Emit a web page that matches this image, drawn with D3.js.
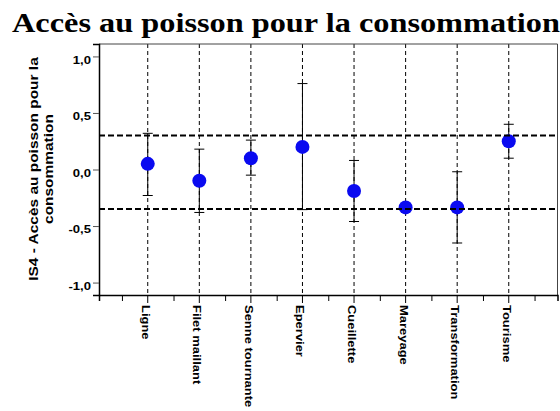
<!DOCTYPE html>
<html>
<head>
<meta charset="utf-8">
<script src="https://cdn.jsdelivr.net/npm/d3@7"></script>
<style>
  body { margin: 0; background: #fff; }
</style>
</head>
<body>
<div id="chart"></div>
<script>
// data
var categories = ["Ligne", "Filet maillant", "Senne tournante", "Epervier", "Cueillette", "Mareyage", "Transformation", "Tourisme"];
var means = [0.05, -0.10, 0.10, 0.20, -0.19, -0.335, -0.335, 0.25];
var lows = [-0.23, -0.38, -0.05, -0.355, -0.46, -0.335, -0.65, 0.10];
var highs = [0.32, 0.18, 0.26, 0.76, 0.08, -0.335, -0.02, 0.40];
var refLines = [0.30, -0.35];
var yTicks = [-1.0, -0.5, 0.0, 0.5, 1.0];
var titleText = "Accès au poisson pour la consommation";
var yLabelLines = ["IS4 - Accès au poisson pour la", "consommation"];

function draw() {
    var w = 560;
    var h = 411;
    var left = 99, right = 557.5, top = 44, bottom = 295;
    var stretch = 1.19; // text in the original is wider than Arial
    var sans = "'Liberation Sans', Arial, sans-serif";

    var svg = d3.select("#chart")
        .append("svg")
        .attr("width", w)
        .attr("height", h)
        .attr("font-family", sans)
        .attr("font-weight", "bold");

    svg.append("rect")
        .attr("width", w)
        .attr("height", h)
        .attr("fill", "white");

    // scales
    var x = d3.scaleLinear()
        .domain([0.055, categories.length + 0.945])
        .range([left, right]);
    var y = d3.scaleLinear()
        .domain([-1.11, 1.11])
        .range([bottom, top]);

    // title
    svg.append("text")
        .attr("transform", "translate(286,31.5) scale(1.22,1)")
        .attr("text-anchor", "middle")
        .attr("font-family", "'Liberation Serif', 'Times New Roman', serif")
        .attr("font-size", "26.5px")
        .attr("fill", "black")
        .text(titleText);

    // vertical dashed lines at each category
    svg.selectAll(".vline")
        .data(categories)
        .enter()
        .append("line")
        .attr("class", "vline")
        .attr("x1", function(d, i) { return x(i + 1); })
        .attr("x2", function(d, i) { return x(i + 1); })
        .attr("y1", top)
        .attr("y2", bottom)
        .attr("stroke", "black")
        .attr("stroke-width", 1)
        .attr("stroke-dasharray", "4,3");

    // error bars
    var eb = svg.selectAll(".err")
        .data(categories)
        .enter()
        .append("g")
        .attr("class", "err");
    eb.append("line")
        .attr("x1", function(d, i) { return x(i + 1); })
        .attr("x2", function(d, i) { return x(i + 1); })
        .attr("y1", function(d, i) { return y(lows[i]); })
        .attr("y2", function(d, i) { return y(highs[i]); })
        .attr("stroke", "black");
    eb.append("line")
        .attr("x1", function(d, i) { return x(i + 1) - 5; })
        .attr("x2", function(d, i) { return x(i + 1) + 5; })
        .attr("y1", function(d, i) { return y(highs[i]); })
        .attr("y2", function(d, i) { return y(highs[i]); })
        .attr("stroke", "black");
    eb.append("line")
        .attr("x1", function(d, i) { return x(i + 1) - 5; })
        .attr("x2", function(d, i) { return x(i + 1) + 5; })
        .attr("y1", function(d, i) { return y(lows[i]); })
        .attr("y2", function(d, i) { return y(lows[i]); })
        .attr("stroke", "black");

    // mean points
    svg.selectAll("circle")
        .data(categories)
        .enter()
        .append("circle")
        .attr("cx", function(d, i) { return x(i + 1); })
        .attr("cy", function(d, i) { return y(means[i]); })
        .attr("r", 7)
        .attr("fill", "#0a0af0");

    // reference lines drawn over the points
    svg.selectAll(".ref")
        .data(refLines)
        .enter()
        .append("line")
        .attr("class", "ref")
        .attr("x1", left)
        .attr("x2", right)
        .attr("y1", function(d) { return y(d); })
        .attr("y2", function(d) { return y(d); })
        .attr("stroke", "black")
        .attr("stroke-width", 2)
        .attr("stroke-dasharray", "6,3");

    // frame
    svg.append("line").attr("x1", left).attr("x2", right).attr("y1", top).attr("y2", top)
        .attr("stroke", "#444").attr("stroke-width", 1);
    svg.append("line").attr("x1", right).attr("x2", right).attr("y1", top).attr("y2", bottom)
        .attr("stroke", "#444").attr("stroke-width", 1);

    // y axis
    var yAxis = d3.axisLeft(y)
        .tickValues(yTicks)
        .tickSize(6)
        .tickPadding(2)
        .tickFormat(function(d) { return d.toFixed(1).replace(".", ",").replace("-0,0", "0,0"); });
    var gy = svg.append("g")
        .attr("transform", "translate(" + left + ",0)")
        .call(yAxis);
    gy.attr("font-family", sans);
    gy.select(".domain").attr("stroke", "black").attr("stroke-width", 1.5);
    gy.selectAll(".tick line").attr("stroke", "#555");
    gy.selectAll(".tick text")
        .attr("font-size", "11px")
        .attr("font-weight", "bold")
        .attr("fill", "black")
        .attr("x", null)
        .attr("dy", "0.6em")
        .attr("transform", "translate(-8,0) scale(" + stretch + ",1)");

    // x axis: small ticks between categories, longer ticks at categories
    var halfTicks = d3.range(0.5, categories.length + 1, 1);
    var xAxis = d3.axisBottom(x)
        .tickValues(halfTicks)
        .tickSize(6)
        .tickFormat("");
    var gx = svg.append("g")
        .attr("transform", "translate(0," + bottom + ")")
        .call(xAxis);
    gx.select(".domain").attr("stroke", "black").attr("stroke-width", 1.5);

    svg.selectAll(".ctick")
        .data(categories)
        .enter()
        .append("line")
        .attr("class", "ctick")
        .attr("x1", function(d, i) { return x(i + 1); })
        .attr("x2", function(d, i) { return x(i + 1); })
        .attr("y1", bottom)
        .attr("y2", bottom + 8)
        .attr("stroke", "black");

    svg.selectAll(".xlab")
        .data(categories)
        .enter()
        .append("text")
        .attr("class", "xlab")
        .attr("transform", function(d, i) {
            return "translate(" + (x(i + 1) - 6) + ",305) rotate(90) scale(1.18,1)";
        })
        .attr("font-size", "11px")
        .attr("fill", "black")
        .text(function(d) { return d; });

    // y axis title, two lines
    svg.selectAll(".ylab")
        .data(yLabelLines)
        .enter()
        .append("text")
        .attr("class", "ylab")
        .attr("transform", function(d, i) {
            return "translate(" + (37.5 + i * 15.5) + ",169) rotate(-90) scale(" + stretch + ",1)";
        })
        .attr("text-anchor", "middle")
        .attr("font-size", "13px")
        .attr("fill", "black")
        .text(function(d) { return d; });
}

window.onload = draw;
</script>
</body>
</html>
